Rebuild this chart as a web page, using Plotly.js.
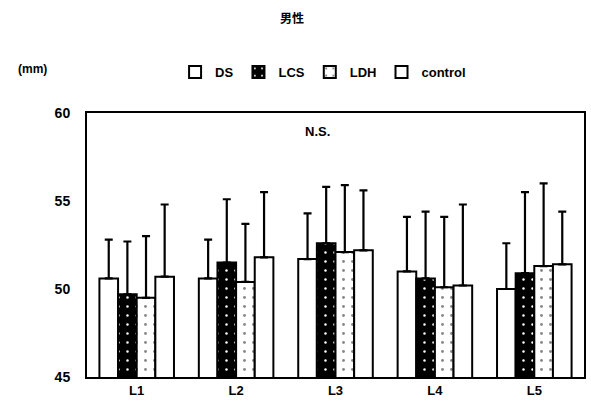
<!DOCTYPE html>
<html>
<head>
<meta charset="utf-8">
<script src="https://cdn.plot.ly/plotly-3.0.1.min.js"></script>
<style>html,body{margin:0;padding:0;background:#fff;}#chart{width:591px;height:414px;}</style>
</head>
<body>
<div id="chart"></div>
<script>
const categories = ["L1", "L2", "L3", "L4", "L5"];
const seriesNames = ["DS", "LCS", "LDH", "control"];
const dsMean = [50.6, 50.6, 51.7, 51.0, 50.0];
const dsSD = [2.2, 2.2, 2.6, 3.1, 2.6];
const lcsMean = [49.7, 51.5, 52.6, 50.6, 50.9];
const lcsSD = [3.0, 3.6, 3.2, 3.8, 4.6];
const ldhMean = [49.5, 50.4, 52.1, 50.1, 51.3];
const ldhSD = [3.5, 3.3, 3.8, 4.0, 4.7];
const ctlMean = [50.7, 51.8, 52.2, 50.2, 51.4];
const ctlSD = [4.1, 3.7, 3.4, 4.6, 3.0];

const means = [dsMean, lcsMean, ldhMean, ctlMean];
const sds = [dsSD, lcsSD, ldhSD, ctlSD];
const patterns = [
  {shape: "", bgcolor: "#ffffff"},
  {shape: ".", bgcolor: "#000000", fgcolor: "#ffffff", size: 9, solidity: 0.06},
  {shape: ".", bgcolor: "#ffffff", fgcolor: "#888888", size: 9, solidity: 0.08},
  {shape: "", bgcolor: "#ffffff"}
];
const fills = ["#ffffff", "#000000", "#ffffff", "#ffffff"];

const traces = seriesNames.map((name, i) => ({
  type: "bar",
  name: name,
  x: categories,
  y: means[i],
  base: 0,
  marker: {
    color: fills[i],
    line: {color: "#000000", width: 2},
    pattern: patterns[i]
  },
  error_y: {
    type: "data",
    symmetric: false,
    array: sds[i],
    arrayminus: sds[i].map(() => 0),
    color: "#000000",
    thickness: 2.2,
    width: 4
  }
}));

const bold = {family: "Liberation Sans, Arial, sans-serif", weight: "bold", color: "#000"};

const layout = {
  width: 591,
  height: 414,
  margin: {l: 87, r: 7, t: 113, b: 37},
  paper_bgcolor: "#ffffff",
  plot_bgcolor: "#ffffff",
  barmode: "group",
  bargap: 0.25,
  bargroupgap: 0,
  font: {family: "Liberation Sans, Arial, sans-serif", color: "#000000"},
  title: {
    text: "<b>男性</b>",
    font: {family: "Noto Sans CJK JP", size: 12, color: "#000"},
    x: 0.494, xanchor: "center", y: 0.955, yanchor: "middle"
  },
  showlegend: true,
  legend: {
    orientation: "h",
    x: 0.475, xanchor: "center",
    y: 1.155, yanchor: "middle",
    font: Object.assign({size: 13}, bold),
    itemwidth: 30,
    tracegroupgap: 0,
    bgcolor: "rgba(0,0,0,0)"
  },
  xaxis: {
    showline: true, linecolor: "#000", linewidth: 2, mirror: true,
    ticks: "", tickfont: Object.assign({size: 13}, bold),
    showgrid: false, zeroline: false
  },
  yaxis: {
    range: [45, 60],
    tickvals: [45, 50, 55, 60],
    showline: true, linecolor: "#000", linewidth: 2, mirror: true,
    ticks: "", ticklabelstandoff: 12,
    tickfont: Object.assign({size: 14}, bold),
    showgrid: false, zeroline: false
  },
  annotations: [
    {text: "<b>(mm)</b>", xref: "paper", yref: "paper", x: -0.11, y: 1.165,
     showarrow: false, xanchor: "center", yanchor: "middle", font: {size: 12}},
    {text: "<b>N.S.</b>", xref: "paper", yref: "paper", x: 0.463, y: 0.93,
     showarrow: false, xanchor: "center", yanchor: "middle", font: {size: 13}}
  ]
};

Plotly.newPlot("chart", traces, layout, {displayModeBar: false, staticPlot: true});
</script>
</body>
</html>
